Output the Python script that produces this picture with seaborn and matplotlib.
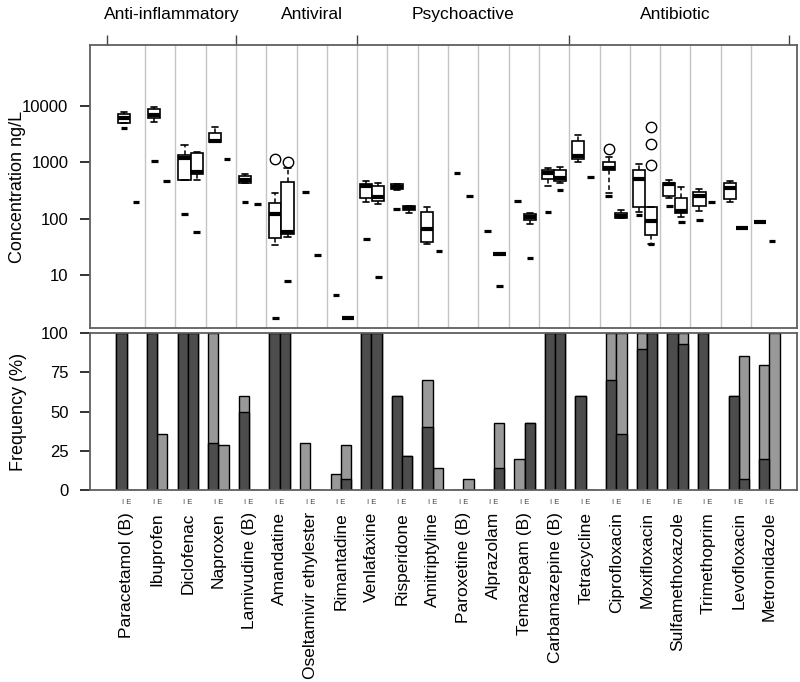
import numpy as np
import pandas as pd
import matplotlib
matplotlib.use("Agg")
import matplotlib.pyplot as plt
import matplotlib.transforms as mtransforms
import seaborn as sns

# ---------------------------------------------------------------- data
drugs = ["Paracetamol (B)", "Ibuprofen", "Diclofenac", "Naproxen",
         "Lamivudine (B)", "Amandatine", "Oseltamivir ethylester", "Rimantadine",
         "Venlafaxine", "Risperidone", "Amitriptyline", "Paroxetine (B)",
         "Alprazolam", "Temazepam (B)", "Carbamazepine (B)",
         "Tetracycline", "Ciprofloxacin", "Moxifloxacin", "Sulfamethoxazole",
         "Trimethoprim", "Levofloxacin", "Metronidazole"]
groups = ["Anti-inflammatory", "Antiviral", "Psychoactive", "Antibiotic"]
group_sizes = [4, 4, 7, 7]

nan = np.nan
# Influent (I) concentrations, ng/L: whisker low, Q1, median, Q3, whisker high
inf_lo  = [4900, 5140, 476, 2300, 432, 34, nan, nan, 197, 321, 35, nan, nan, nan, 378,
           1004, 281, 131, 228, 136, 194, 86]
inf_q1  = [4900, 6130, 476, 2300, 432, 44.7, nan, nan, 234, 338, 38.9, nan, nan, nan, 502,
           1136, 726, 162, 248, 169, 222, 86]
inf_med = [6000, 6840, 1170, 2400, 476, 119, nan, nan, 378, 367, 66, nan, nan, nan, 642,
           1300, 778, 502, 405, 254, 352, 86]
inf_q3  = [7200, 8640, 1340, 3330, 568, 189, nan, nan, 415, 405, 129, nan, nan, nan, 726,
           2340, 1019, 735, 422, 296, 422, 86]
inf_hi  = [7800, 9600, 2010, 4200, 617, 281, nan, nan, 463, 405, 162, nan, nan, nan, 796,
           3030, 1218, 927, 477, 329, 457, 86]
inf_out = [[], [], [], [], [], [1120], [], [], [], [], [], [], [], [], [],
           [], [1690], [], [], [], [], []]

# Effluent (E) concentrations, ng/L
eff_lo  = [nan, nan, 476, nan, nan, 47, nan, 1.75, 183, 127, nan, nan, 23.2, 80, 427,
           nan, 104, 35, 105, nan, 69, nan]
eff_q1  = [nan, nan, 624, nan, nan, 52.6, nan, 1.75, 202, 142, nan, nan, 23.2, 94.3, 457,
           nan, 104, 51.2, 127, nan, 69, nan]
eff_med = [nan, nan, 676, nan, nan, 58.6, nan, 1.75, 238, 156, nan, nan, 23.2, 105, 517,
           nan, 111, 91.7, 136, nan, 69, nan]
eff_q3  = [nan, nan, 1433, nan, nan, 440, nan, 1.75, 378, 167, nan, nan, 23.2, 119, 735,
           nan, 124, 162, 231, nan, 69, nan]
eff_hi  = [nan, nan, 1530, nan, nan, 800, nan, 1.75, 427, 170, nan, nan, 23.2, 124, 820,
           nan, 142, 162, 367, nan, 69, nan]
eff_out = [[], [], [], [], [], [1019], [], [], [], [], [], [], [], [], [],
           [], [], [890, 2120, 4200], [], [], [], []]

# Limits of quantification, ng/L
loq_inf = [4100, 1060, 119, nan, 194, 1.75, 296, 4.5, 44, 146, nan, 650, 60, 202, 129,
           nan, 251, 116, 167, 93, nan, nan]
loq_eff = [200, 463, 57, 1150, 183, 7.9, 22.6, nan, 9.1, nan, 26.6, 248, 6.5, 19.8, 324,
           539, nan, 35, 87, 197, nan, 40]

# Frequency (%): quantified and detected, influent / effluent
quant_inf  = [100, 100, 100, 30, 50, 100, 0, 0, 100, 60, 40, 0, 0, 0, 100,
              60, 70, 90, 100, 100, 60, 20]
detect_inf = [100, 100, 100, 100, 60, 100, 30, 10, 100, 60, 70, 0, 0, 20, 100,
              60, 100, 100, 100, 100, 60, 80]
quant_eff  = [0, 0, 100, 0, 0, 100, 0, 7.1, 100, 21.4, 0, 0, 14.3, 42.9, 100,
              0, 35.7, 100, 92.9, 0, 7.1, 0]
detect_eff = [0, 35.7, 100, 28.6, 0, 100, 0, 28.6, 100, 21.4, 14.3, 7.1, 42.9, 42.9, 100,
              0, 100, 100, 100, 0, 85.7, 100]

conc_ticks = [10, 100, 1000, 10000]
freq_ticks = [0, 25, 50, 75, 100]

# ---------------------------------------------------------------- style
sns.set_theme(style="ticks")
FRAME = "#5f5f5f"
DARK = "#4d4d4d"
LIGHT = "#999999"
plt.rcParams.update({
    "font.family": ["Liberation Sans", "DejaVu Sans"],
    "text.color": "black",
    "ytick.labelcolor": "black",
    "ytick.labelsize": 12,
})

W, H = 800, 682
fig = plt.figure(figsize=(W / 100, H / 100), dpi=100)
L, R = 90 / W, 797 / W
ax = fig.add_axes([L, 1 - 328.3 / H, R - L, (328.3 - 44.5) / H])
axb = fig.add_axes([L, 1 - 490 / H, R - L, (490 - 333.3) / H])

n = len(drugs)
pos = np.arange(n)


def summaries(lo, q1, med, q3, hi, out):
    stats, where = [], []
    for i in range(n):
        if np.isnan(med[i]):
            continue
        stats.append(dict(whislo=lo[i], q1=q1[i], med=med[i], q3=q3[i],
                          whishi=hi[i], fliers=out[i]))
        where.append(i)
    return stats, np.array(where, dtype=float)


box_kw = dict(widths=0.4, capwidths=0.2, patch_artist=True, showfliers=True,
              boxprops=dict(facecolor="white", edgecolor="black", linewidth=1.2),
              medianprops=dict(color="black", linewidth=3, solid_capstyle="butt"),
              whiskerprops=dict(color="black", linewidth=1.1, linestyle=(0, (3, 2))),
              capprops=dict(color="black", linewidth=1.2),
              flierprops=dict(marker="o", markerfacecolor="none",
                              markeredgecolor="black", markersize=7.5,
                              markeredgewidth=1.0),
              manage_ticks=False, zorder=3)

st, wh = summaries(inf_lo, inf_q1, inf_med, inf_q3, inf_hi, inf_out)
ax.bxp(st, positions=wh - 0.2, **box_kw)
st, wh = summaries(eff_lo, eff_q1, eff_med, eff_q3, eff_hi, eff_out)
ax.bxp(st, positions=wh + 0.2, **box_kw)

# quantification limits as short dashes
li = np.array(loq_inf, dtype=float)
le = np.array(loq_eff, dtype=float)
ax.hlines(li, pos - 0.2 - 0.11, pos - 0.2 + 0.11, color="black", lw=2.3, zorder=4)
ax.hlines(le, pos + 0.2 - 0.11, pos + 0.2 + 0.11, color="black", lw=2.3, zorder=4)

# separators between compounds
for x in np.arange(0.5, n - 1, 1.0):
    ax.axvline(x, color="#c4c4c4", lw=1.0, zorder=1)

ax.set_yscale("log")
ax.set_ylim(1.136, 1.215e5)
ax.set_xlim(-1.3206, 22.02)
ax.set_xticks([])
ax.yaxis.set_major_locator(matplotlib.ticker.FixedLocator(conc_ticks))
ax.yaxis.set_major_formatter(matplotlib.ticker.FixedFormatter([str(t) for t in conc_ticks]))
ax.yaxis.set_minor_locator(matplotlib.ticker.NullLocator())

# class headers with brackets
bounds = np.concatenate([[-0.75], np.cumsum(group_sizes)[:-1] - 0.5, [n - 0.25]])
hdr_x = [1.375, 6.0, 11.0, 18.0]
tb = mtransforms.blended_transform_factory(ax.transData, ax.transAxes)
ax.vlines(bounds, 1.0, 1.034, transform=tb, color="#444444", lw=1.0, clip_on=False)
for name, x in zip(groups, hdr_x):
    ax.text(x, 1.104, name, transform=tb, ha="center", va="center", fontsize=12.5,
            color="black")

# ---------------------------------------------------------------- frequency bars
freq = pd.DataFrame({
    "drug": drugs * 2,
    "site": ["I"] * n + ["E"] * n,
    "detected": detect_inf + detect_eff,
    "quantified": quant_inf + quant_eff,
})
bar_kw = dict(data=freq, x="drug", hue="site", hue_order=["I", "E"], order=drugs,
              width=0.667, edgecolor="black", linewidth=1.0, errorbar=None,
              saturation=1, legend=False, ax=axb)
sns.barplot(y="detected", palette={"I": LIGHT, "E": LIGHT}, **bar_kw)
sns.barplot(y="quantified", palette={"I": DARK, "E": DARK}, **bar_kw)

axb.set_xlim(-1.199, 21.905)
axb.set_ylim(0, 100)
axb.set_yticks(freq_ticks)
axb.set_xticks(pos)
axb.set_xticklabels(drugs, rotation=90, fontsize=12.5, ha="center", va="top")
axb.set_xlabel("")
axb.set_ylabel("")
tbb = mtransforms.blended_transform_factory(axb.transData, axb.transAxes)
for i in pos:
    axb.text(i, -0.081, "I E", transform=tbb, ha="center", va="center",
             fontsize=5.5, color="#444444")

for a in (ax, axb):
    for s in a.spines.values():
        s.set_visible(True)
        s.set_color(FRAME)
        s.set_linewidth(1.3)
    a.yaxis.set_tick_params(which="major", left=True, tick1On=True, length=7.5,
                            width=1.4, color="#333333", direction="out", pad=8.0)
axb.tick_params(axis="x", length=0, pad=16, labelcolor="black")

fig.text(17.5 / W, 1 - 186.5 / H, "Concentration ng/L", rotation=90,
         ha="center", va="center", fontsize=13)
fig.text(18.5 / W, 1 - 411.5 / H, "Frequency (%)", rotation=90,
         ha="center", va="center", fontsize=13)

fig.savefig("out.png", dpi=100)
